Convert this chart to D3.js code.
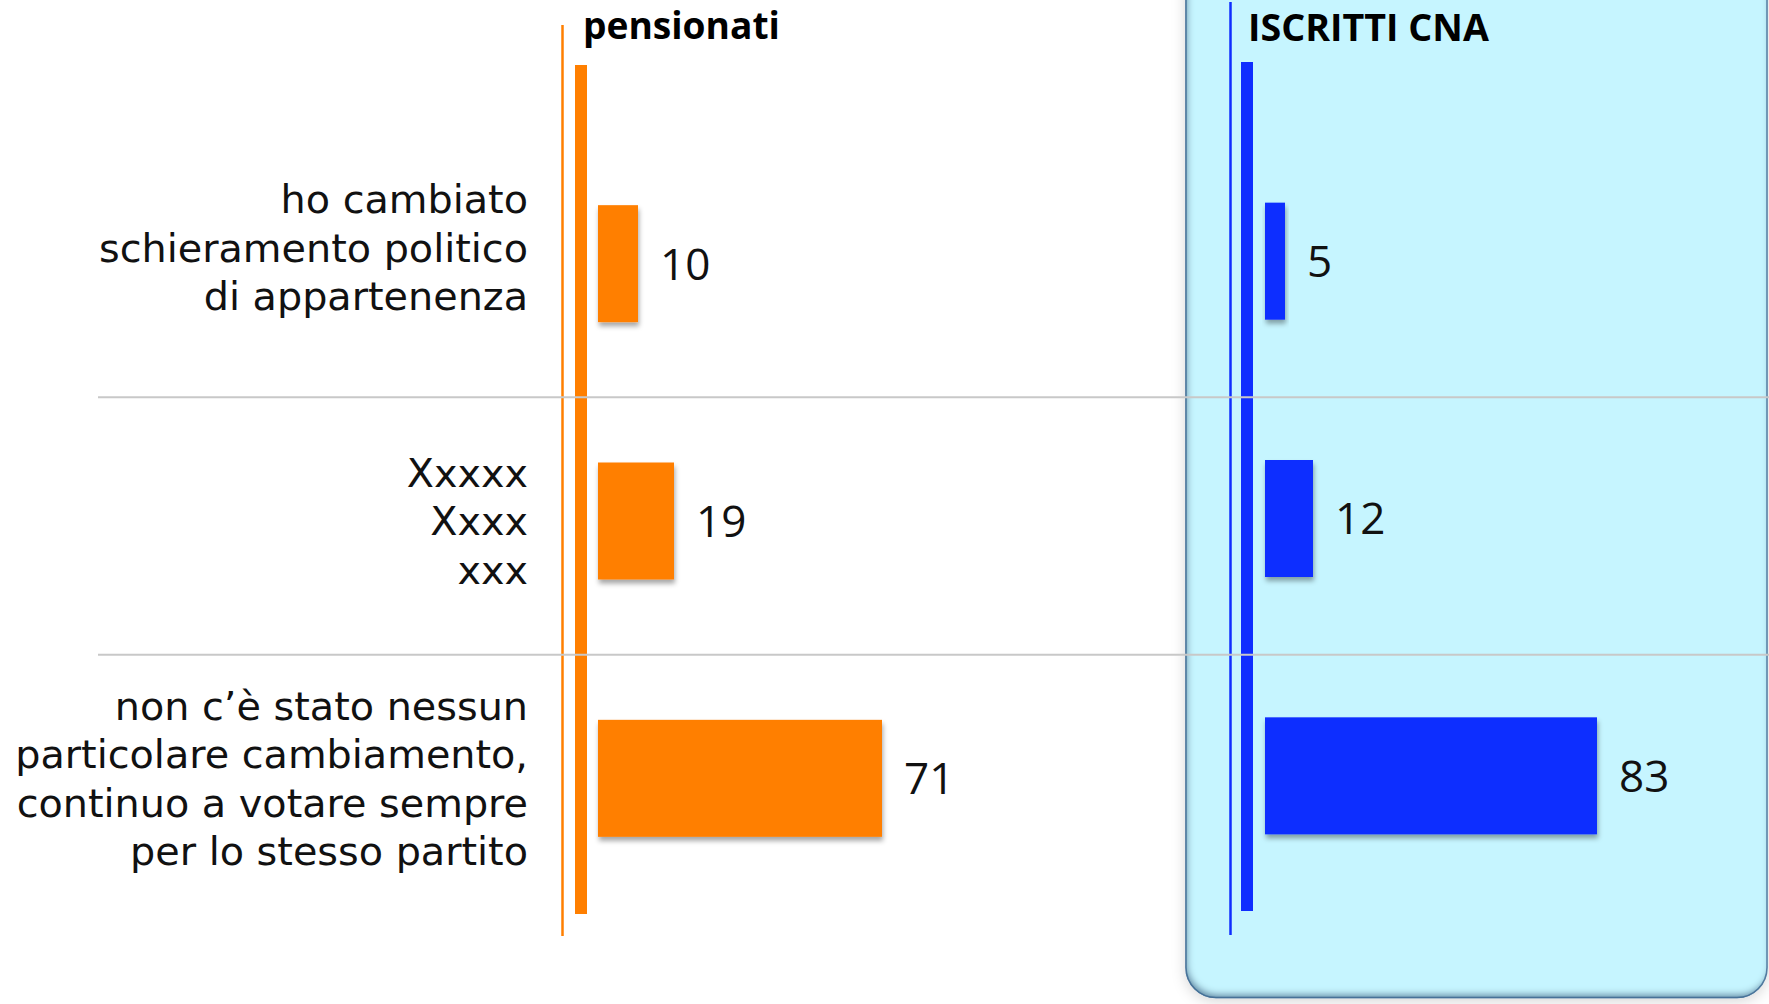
<!DOCTYPE html>
<html>
<head>
<meta charset="utf-8">
<script src="https://cdn.jsdelivr.net/npm/d3@7"></script>
<style>
  html, body { margin: 0; padding: 0; background: #ffffff; }
  svg { display: block; }
</style>
</head>
<body>
<svg id="chart" width="1769" height="1004"></svg>
<script>
// ---------- DATA ----------
const categoryLabels = [
  ["ho cambiato", "schieramento politico", "di appartenenza"],
  ["Xxxxx", "Xxxx", "xxx"],
  ["non c’è stato nessun", "particolare cambiamento,", "continuo a votare sempre", "per lo stesso partito"]
];
const seriesNames = ["pensionati", "ISCRITTI CNA"];
const pensionatiValues = [10, 19, 71];
const iscrittiValues = [5, 12, 83];

// ---------- LAYOUT ----------
const W = 1769, H = 1004;
const FONT = "'Open Sans', 'DejaVu Sans', sans-serif";
const LABEL_FONT = "'DejaVu Sans', 'Open Sans', sans-serif";
const svg = d3.select("#chart");
const defs = svg.append("defs");

// shadows
const panelShadow = defs.append("filter").attr("id", "panelShadow")
  .attr("x", "-10%").attr("y", "-10%").attr("width", "120%").attr("height", "120%");
panelShadow.append("feGaussianBlur").attr("in", "SourceAlpha").attr("stdDeviation", 7).attr("result", "b");
panelShadow.append("feOffset").attr("in", "b").attr("dx", 0).attr("dy", 3).attr("result", "o");
panelShadow.append("feFlood").attr("flood-color", "#000").attr("flood-opacity", 0.16);
panelShadow.append("feComposite").attr("in2", "o").attr("operator", "in").attr("result", "s");
const pm = panelShadow.append("feMerge");
pm.append("feMergeNode").attr("in", "s");
pm.append("feMergeNode").attr("in", "SourceGraphic");

const inset = defs.append("filter").attr("id", "inset")
  .attr("x", "-5%").attr("y", "-5%").attr("width", "110%").attr("height", "110%");
inset.append("feFlood").attr("flood-color", "#3f6c92").attr("flood-opacity", 0.9).attr("result", "f");
inset.append("feComposite").attr("in", "f").attr("in2", "SourceAlpha").attr("operator", "out").attr("result", "outside");
inset.append("feGaussianBlur").attr("in", "outside").attr("stdDeviation", 3.5).attr("result", "blur");
inset.append("feOffset").attr("in", "blur").attr("dx", 1.5).attr("dy", -4).attr("result", "off");
inset.append("feComposite").attr("in", "off").attr("in2", "SourceAlpha").attr("operator", "in").attr("result", "inner");
const im = inset.append("feMerge");
im.append("feMergeNode").attr("in", "SourceGraphic");
im.append("feMergeNode").attr("in", "inner");

const barShadow = defs.append("filter").attr("id", "barShadow")
  .attr("x", "-20%").attr("y", "-20%").attr("width", "140%").attr("height", "150%");
barShadow.append("feGaussianBlur").attr("in", "SourceAlpha").attr("stdDeviation", 2.5).attr("result", "b");
barShadow.append("feOffset").attr("in", "b").attr("dx", 1).attr("dy", 4).attr("result", "o");
barShadow.append("feFlood").attr("flood-color", "#000").attr("flood-opacity", 0.35);
barShadow.append("feComposite").attr("in2", "o").attr("operator", "in").attr("result", "s");
const bm = barShadow.append("feMerge");
bm.append("feMergeNode").attr("in", "s");
bm.append("feMergeNode").attr("in", "SourceGraphic");

// ---------- SCALES ----------
const y = d3.scaleBand().domain(d3.range(categoryLabels.length)).range([140, 912]).padding(0);
const x = d3.scaleLinear().domain([0, 100]).range([0, 400]);
const BAR_H = 117;

const panels = [
  { name: seriesNames[0], values: pensionatiValues, color: "#ff7f00", x0: 598, dy: -5,
    thinX: 562.5, thinTop: 25, thinBottom: 936, thickX: 575, thickTop: 65, thickBottom: 914,
    titleX: 583, titleY: 39, titleW: 197 },
  { name: seriesNames[1], values: iscrittiValues, color: "#0f2dff", x0: 1265, dy: -7.5,
    thinX: 1230.5, thinTop: 2, thinBottom: 935, thickX: 1241, thickTop: 62, thickBottom: 911,
    titleX: 1248, titleY: 41, titleW: 241 }
];

// ---------- BLUE PANEL BACKGROUND ----------
const panelG = svg.append("g").attr("filter", "url(#panelShadow)");
panelG.append("rect")
  .attr("x", 1186).attr("y", -40).attr("width", 581).attr("height", 1037.5)
  .attr("rx", 30).attr("ry", 30)
  .attr("fill", "#c6f5ff")
  .attr("stroke", "#5b84a8").attr("stroke-width", 1.5)
  .attr("filter", "url(#inset)");

// ---------- AXES DECORATION ----------
panels.forEach(p => {
  svg.append("line")
    .attr("x1", p.thinX).attr("x2", p.thinX)
    .attr("y1", p.thinTop).attr("y2", p.thinBottom)
    .attr("stroke", p.color).attr("stroke-width", 2.5);
  svg.append("rect")
    .attr("x", p.thickX).attr("width", 12)
    .attr("y", p.thickTop).attr("height", p.thickBottom - p.thickTop)
    .attr("fill", p.color);
});

// ---------- GRIDLINES (band boundaries) ----------
svg.append("g").selectAll("line")
  .data(d3.range(1, categoryLabels.length))
  .join("line")
  .attr("x1", 98).attr("x2", W)
  .attr("y1", d => y(d)).attr("y2", d => y(d))
  .attr("stroke", "#c8c8c8").attr("stroke-width", 2);

// ---------- BARS + VALUE LABELS ----------
panels.forEach(p => {
  const g = svg.append("g");
  const data = p.values.map((v, i) => ({ v, i }));
  g.selectAll("rect.bar")
    .data(data)
    .join("rect")
    .attr("class", "bar")
    .attr("x", p.x0)
    .attr("y", d => y(d.i) + y.bandwidth() / 2 + p.dy - BAR_H / 2)
    .attr("width", d => x(d.v))
    .attr("height", BAR_H)
    .attr("fill", p.color)
    .attr("filter", "url(#barShadow)");
  g.selectAll("text.val")
    .data(data)
    .join("text")
    .attr("class", "val")
    .attr("x", d => p.x0 + x(d.v) + 22)
    .attr("y", d => y(d.i) + y.bandwidth() / 2 + p.dy)
    .attr("dy", "0.36em")
    .attr("font-family", FONT)
    .attr("font-size", 44)
    .attr("fill", "#111")
    .text(d => d.v);

  // title
  const t = svg.append("text")
    .attr("x", p.titleX).attr("y", p.titleY)
    .attr("font-family", FONT).attr("font-weight", 700)
    .attr("font-size", 36).attr("fill", "#000")
    .text(p.name);
  const w = t.node().getComputedTextLength();
  t.attr("font-size", 36 * p.titleW / w);
});

// ---------- CATEGORY LABELS ----------
const LINE_H = 48.5;
const labelX = 528;
const firstLabelShift = -16;
const labelG = svg.append("g")
  .attr("font-family", LABEL_FONT).attr("font-size", 34).attr("fill", "#111")
  .attr("text-anchor", "end");
categoryLabels.forEach((lines, i) => {
  const cy = y(i) + y.bandwidth() / 2 - 5 + (i === 0 ? firstLabelShift : 0);
  lines.forEach((line, k) => {
    labelG.append("text")
      .attr("class", "cat")
      .attr("x", labelX)
      .attr("y", cy + (k - (lines.length - 1) / 2) * LINE_H)
      .attr("dy", "0.36em")
      .text(line);
  });
});
// fit font size so the longest line matches the reference width (kept below line spacing)
let maxW = 0;
labelG.selectAll("text").each(function () { maxW = Math.max(maxW, this.getComputedTextLength()); });
labelG.attr("font-size", Math.min(40, 34 * 513 / maxW));
</script>
</body>
</html>
